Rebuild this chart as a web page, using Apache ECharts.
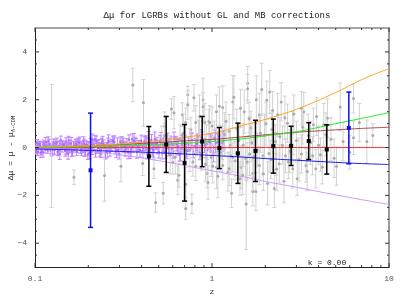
<!DOCTYPE html>
<html><head><meta charset="utf-8">
<script src="https://cdn.jsdelivr.net/npm/echarts@6/dist/echarts.min.js"></script>
<style>html,body{margin:0;padding:0;background:#fff}#c{width:407px;height:301px}</style>
</head><body><div id="c"></div>
<script>
const FONT = '"Liberation Mono", "DejaVu Sans Mono", monospace';

// Supernovae (purple points)
const snZ = [0.100,0.102,0.104,0.105,0.107,0.109,0.110,0.112,0.114,0.116,
0.118,0.120,0.122,0.125,0.127,0.129,0.132,0.134,0.137,0.139,
0.142,0.145,0.148,0.150,0.153,0.157,0.160,0.163,0.166,0.170,
0.173,0.177,0.181,0.184,0.188,0.193,0.197,0.201,0.206,0.210,
0.215,0.220,0.225,0.230,0.236,0.241,0.247,0.253,0.259,0.265,
0.272,0.278,0.285,0.292,0.299,0.307,0.315,0.323,0.331,0.340,
0.349,0.358,0.367,0.377,0.387,0.398,0.409,0.420,0.431,0.443,
0.455,0.468,0.481,0.495,0.509,0.523,0.538,0.553,0.569,0.586,
0.603,0.620,0.638,0.657,0.676,0.696,0.717,0.738,0.760,0.783,
0.806,0.830,0.855,0.881,0.908,0.935,0.963,0.992,1.02,1.05,
1.08,1.12,1.17,
0.101,0.106,0.111,0.117,0.123,0.130,0.136,0.143,0.151,0.158,
0.165,0.172,0.179,0.186,0.195,0.203,0.212,0.222,0.233,0.244,
0.256,0.268,0.281,0.295,0.311,0.327,0.345,0.363,0.383,0.404,
0.426,0.450,0.475,0.502,0.531,0.561,0.593,0.627,0.663,0.701,
0.103,0.108,0.113,0.119,0.124,0.128,0.133,0.138,0.146,0.152,
0.155,0.161,0.168,0.175,0.183,0.190,0.199,0.208,0.218,0.227,
0.238,0.250,0.262,0.275,0.288,0.303,0.319,0.336,0.354,0.372,
0.392,0.414,0.437,0.462,0.488,0.516,0.546,0.577,0.610,0.645,
0.682,0.72,0.77,0.82,0.87,0.92,0.98,1.04,1.10,1.15,
0.104,0.115,0.126,0.140,0.154,0.171,0.190,0.210,0.235,0.260];
const snMu = [0.05,-0.08,0.12,-0.03,0.09,-0.15,0.02,0.18,-0.06,0.07,
-0.12,0.14,0.01,-0.09,0.22,-0.04,0.11,-0.18,0.06,0.15,
-0.02,0.09,-0.14,0.25,0.03,-0.07,0.17,-0.21,0.08,0.12,
-0.05,0.19,-0.11,0.04,0.28,-0.16,0.10,-0.02,0.21,-0.09,
0.13,-0.24,0.06,0.16,-0.07,0.30,-0.13,0.02,0.18,-0.20,
0.09,0.24,-0.05,0.12,-0.27,0.07,0.20,-0.10,0.15,0.33,
-0.08,0.04,0.22,-0.18,0.11,0.27,-0.03,0.17,-0.25,0.08,
0.31,-0.12,0.14,0.02,0.26,-0.20,0.10,0.35,-0.06,0.19,
-0.15,0.23,0.05,-0.30,0.16,0.38,-0.09,0.12,0.28,-0.17,
0.06,0.21,-0.22,0.32,0.09,-0.11,0.25,0.14,-0.26,0.18,
0.22,-0.05,0.30,
-0.10,0.14,-0.20,0.07,-0.04,0.19,-0.13,0.10,-0.07,0.16,
0.03,-0.17,0.21,-0.01,0.12,-0.23,0.08,0.26,-0.09,0.14,
-0.19,0.05,0.23,-0.12,0.17,0.01,-0.21,0.29,0.06,-0.14,
0.20,-0.03,0.34,-0.18,0.10,0.27,-0.08,0.15,-0.24,0.22,
0.18,-0.22,0.09,0.27,-0.14,0.04,0.21,-0.27,0.13,-0.05,
0.30,-0.16,0.07,0.24,-0.10,0.16,-0.29,0.11,0.34,-0.02,
0.19,-0.23,0.08,0.29,-0.15,0.22,0.03,-0.19,0.36,0.12,
-0.11,0.25,0.40,-0.07,0.18,0.31,-0.20,0.09,0.37,0.02,
0.24,-0.13,0.30,0.15,0.42,-0.04,0.20,0.33,0.10,0.26,
-0.18,0.23,-0.09,0.30,-0.25,0.15,-0.14,0.32,-0.21,0.26];
const snErr = [0.14,0.18,0.12,0.20,0.15,0.16,0.22,0.13,0.17,0.19,
0.12,0.21,0.15,0.18,0.14,0.24,0.13,0.16,0.20,0.15,
0.17,0.13,0.22,0.16,0.19,0.14,0.25,0.15,0.18,0.21,
0.16,0.20,0.14,0.23,0.17,0.19,0.15,0.26,0.18,0.20,
0.22,0.16,0.24,0.18,0.21,0.17,0.27,0.19,0.22,0.16,
0.25,0.20,0.18,0.28,0.21,0.23,0.19,0.26,0.22,0.20,
0.29,0.24,0.21,0.27,0.19,0.25,0.23,0.30,0.22,0.26,
0.24,0.31,0.20,0.28,0.25,0.27,0.33,0.23,0.29,0.26,
0.30,0.24,0.32,0.27,0.35,0.25,0.30,0.28,0.34,0.26,
0.31,0.36,0.29,0.33,0.30,0.38,0.32,0.35,0.34,0.40,
0.38,0.42,0.36,
0.17,0.13,0.20,0.16,0.22,0.14,0.19,0.18,0.24,0.15,
0.21,0.17,0.23,0.20,0.16,0.25,0.19,0.22,0.27,0.18,
0.24,0.21,0.26,0.20,0.28,0.23,0.25,0.30,0.22,0.27,
0.29,0.24,0.31,0.26,0.28,0.33,0.27,0.30,0.32,0.29,
0.15,0.20,0.13,0.18,0.21,0.16,0.19,0.23,0.14,0.20,
0.17,0.22,0.18,0.15,0.24,0.19,0.21,0.26,0.17,0.22,
0.20,0.25,0.23,0.19,0.27,0.22,0.24,0.28,0.21,0.26,
0.30,0.23,0.27,0.29,0.25,0.32,0.26,0.30,0.28,0.33,
0.31,0.34,0.30,0.36,0.33,0.38,0.35,0.40,0.37,0.42,
0.16,0.19,0.22,0.18,0.24,0.20,0.23,0.25,0.21,0.27];

// LGRBs (gray points)
const grbZ = [0.124,0.166,0.247,0.306,0.357,0.406,0.41,0.47,0.48,0.53,
0.54,0.54,0.59,0.60,0.61,0.64,0.65,0.68,0.71,0.71,
0.71,0.73,0.73,0.76,0.77,0.79,0.81,0.81,0.89,0.89,
0.91,0.94,0.95,0.96,0.97,0.99,1.01,1.06,1.06,1.10,
1.15,1.15,1.23,1.25,1.25,1.29,1.31,1.31,1.40,1.45,
1.46,1.49,1.52,1.56,1.59,1.59,1.63,1.63,1.66,1.70,
1.70,1.77,1.85,1.85,1.91,1.94,2.04,2.06,2.12,2.20,
2.25,2.30,2.35,2.40,2.46,2.55,2.60,2.67,2.86,2.86,
3.03,3.20,3.20,3.30,3.40,3.70,3.74,3.86,4.20,4.28,
4.49,5.05,6.30,6.30,8.10,
0.52,0.58,0.66,0.75,0.84,0.87,0.93,1.03,1.12,1.18,
1.27,1.35,1.42,1.55,1.68,1.80,1.98,2.15,2.28,2.50,
2.75,3.00,3.50,4.00,4.70,5.50,
0.62,0.69,0.78,0.85,0.92,1.00,1.08,1.14,1.20,1.28,
1.33,1.38,1.44,1.50,1.58,1.62,1.72,1.78,1.88,1.95,
2.02,2.10,2.18,2.32,2.42,2.58,2.70,2.90,3.10,3.25,
3.45,3.60,3.90,4.10,4.40,4.90,5.30,6.00,6.80,7.50];
const grbMu = [0.07,-1.24,-1.17,-0.78,2.62,-0.67,1.87,-0.89,-2.30,-1.91,
0.89,0.50,1.61,-0.61,1.46,-1.37,-1.16,1.37,1.05,-1.53,
-2.55,2.21,1.78,0.75,-2.35,2.08,1.05,-0.78,2.00,1.71,
1.05,-1.09,-1.46,1.09,1.05,-0.41,-0.78,1.50,-0.82,1.73,
1.68,-0.75,-1.02,0.68,-0.89,-1.91,1.91,-0.41,-0.34,1.64,
-0.82,-1.16,1.50,-2.36,2.69,2.46,0.48,-0.27,0.82,-1.84,
-1.09,-1.84,1.37,-0.75,2.43,-0.34,1.98,-1.50,2.32,1.55,
-1.71,-0.27,1.37,-0.68,1.91,-1.41,-0.34,1.02,0.61,-0.89,
-1.30,1.64,-0.27,1.50,-0.75,-0.34,0.95,-0.89,-0.82,0.95,
1.23,-0.78,2.05,0.41,0.50,
0.20,-0.30,0.35,-0.10,0.45,-0.35,0.15,0.40,-0.20,0.55,
0.10,-0.55,0.30,-0.45,0.20,-0.10,0.50,-0.50,0.25,0.10,
-0.15,0.30,0.50,0.10,0.35,0.25,
-0.40,0.60,-0.60,1.30,-0.70,0.90,-1.20,0.20,1.10,-0.35,
2.10,0.80,-1.30,0.10,-0.60,1.20,-0.40,2.00,0.60,-1.10,
1.00,-0.25,0.75,-0.90,0.45,1.25,-0.60,1.40,-0.50,0.85,
-1.00,0.20,1.30,-0.30,0.55,-0.45,1.70,-0.20,1.05,0.25];
const grbErr = [2.57,0.30,1.08,0.65,0.70,0.50,0.98,0.40,0.40,0.45,
0.60,0.50,0.43,0.50,0.68,0.60,0.50,0.50,0.60,0.70,
0.45,0.35,0.60,0.50,0.40,0.55,0.70,0.60,0.90,0.60,
0.80,0.60,0.70,0.50,0.70,0.80,0.70,0.70,0.90,0.80,
0.90,0.60,0.80,0.70,0.70,0.60,1.10,0.60,0.70,0.80,
0.90,0.80,0.90,1.90,0.70,0.60,0.80,0.90,0.70,0.60,
0.70,0.80,0.90,0.80,1.10,0.80,0.80,0.90,0.90,0.80,
0.80,0.90,0.90,0.80,0.80,0.90,0.70,0.80,0.90,0.80,
0.70,0.70,0.80,0.80,0.70,0.80,0.70,0.80,0.70,0.90,
0.80,0.80,0.60,0.70,0.50,
0.70,0.80,0.60,0.90,0.70,0.60,0.80,0.70,0.80,0.90,
0.70,0.80,0.70,0.90,0.80,0.70,0.90,0.80,0.70,0.80,
0.90,0.80,0.90,0.80,0.90,0.80,
0.70,0.80,0.60,0.90,0.70,0.80,0.90,0.70,0.80,0.70,
0.90,0.80,0.70,0.90,0.80,0.70,0.90,1.00,0.80,0.70,
0.90,0.80,0.70,0.90,0.80,0.90,0.70,0.80,0.90,0.70,
0.80,0.90,0.80,0.70,0.90,0.80,1.00,0.70,0.80,0.90];

// Binned LGRBs (black) and blue bins
const binZ = [0.44,0.551,0.70,0.88,1.10,1.40,1.76,2.22,2.80,3.52,4.45];
const binMu = [-0.37,0.13,-0.64,0.25,-0.02,-0.24,-0.14,0.06,0.07,0.27,-0.08];
const binErr = [1.25,1.17,1.60,1.05,0.86,1.26,1.28,1.13,0.82,0.77,1.03];
const blueZ = [0.206,5.93];
const blueMu = [-0.95,0.82];
const blueErr = [2.39,1.50];

// Model curves
const curveZ = [0.1,0.15,0.2,0.3,0.5,0.7,1,1.5,2,3,5,7,10];
const orangeMu = [0.02,0.05,0.08,0.15,0.29,0.43,0.60,0.93,1.18,1.60,2.30,2.84,3.30];
const greenMu  = [0.00,0.02,0.04,0.07,0.12,0.18,0.25,0.37,0.49,0.66,1.00,1.22,1.46];
const brownMu  = [0.00,0.04,0.07,0.13,0.21,0.28,0.34,0.45,0.53,0.64,0.74,0.80,0.85];
const redMu    = [0,0,0,0,0,0,0,0,0,0,0,0,0];
const blueLineMu = [-0.06,-0.09,-0.12,-0.16,-0.22,-0.27,-0.33,-0.40,-0.46,-0.53,-0.62,-0.67,-0.71];
const purpleMu = [0.00,-0.08,-0.16,-0.30,-0.55,-0.75,-0.97,-1.22,-1.42,-1.66,-1.98,-2.18,-2.38];

// Ticks
const xTickMajor = [0.1,1,10];
const xTickMinor = [0.2,0.3,0.4,0.5,0.6,0.7,0.8,0.9,2,3,4,5,6,7,8,9];
const yTickMajor = [-4,-2,0,2,4];
const yTickMinor = [-4.5,-3.5,-3,-2.5,-1.5,-1,-0.5,0.5,1,1.5,2.5,3,3.5,4.5];
const X_MIN = 0.1, X_MAX = 10, Y_MIN = -5, Y_MAX = 5;

function zip3(a,b,c){ return a.map((v,i)=>[v,b[i],c[i]]); }
function zip2(a,b){ return a.map((v,i)=>[v,b[i]]); }

function errRender(barColor, lw, cap, markColor, msize, square){
  return function(params, api){
    const x = api.value(0), y = api.value(1), e = api.value(2);
    const t = api.coord([x, y + e]), b = api.coord([x, y - e]), c = api.coord([x, y]);
    const st = {stroke: barColor, lineWidth: lw};
    const ch = [
      {type:'line', shape:{x1:t[0],y1:t[1],x2:b[0],y2:b[1]}, style:st},
      {type:'line', shape:{x1:t[0]-cap,y1:t[1],x2:t[0]+cap,y2:t[1]}, style:st},
      {type:'line', shape:{x1:b[0]-cap,y1:b[1],x2:b[0]+cap,y2:b[1]}, style:st}
    ];
    if (square) ch.push({type:'rect', shape:{x:c[0]-msize/2,y:c[1]-msize/2,width:msize,height:msize}, style:{fill:markColor}});
    else ch.push({type:'circle', shape:{cx:c[0],cy:c[1],r:msize/2}, style:{fill:markColor}});
    return {type:'group', children: ch};
  };
}

function xTickRender(len){
  return function(params, api){
    const v = api.value(0);
    const b = api.coord([v, Y_MIN]), t = api.coord([v, Y_MAX]);
    const st = {stroke:'#333', lineWidth:1};
    return {type:'group', children:[
      {type:'line', shape:{x1:b[0],y1:b[1],x2:b[0],y2:b[1]-len}, style:st},
      {type:'line', shape:{x1:t[0],y1:t[1],x2:t[0],y2:t[1]+len}, style:st}
    ]};
  };
}
function yTickRender(len){
  return function(params, api){
    const v = api.value(1);
    const l = api.coord([X_MIN, v]), r = api.coord([X_MAX, v]);
    const st = {stroke:'#333', lineWidth:1};
    return {type:'group', children:[
      {type:'line', shape:{x1:l[0],y1:l[1],x2:l[0]+len,y2:l[1]}, style:st},
      {type:'line', shape:{x1:r[0],y1:r[1],x2:r[0]-len,y2:r[1]}, style:st}
    ]};
  };
}

function curve(data, color){
  return {type:'line', data: zip2(curveZ, data), smooth: 0.4, showSymbol:false, silent:true,
    lineStyle:{color:color, width:1}, z:3, animation:false};
}

const chart = echarts.init(document.getElementById('c'), null, {renderer:'canvas'});
chart.setOption({
  animation: false,
  backgroundColor: '#fff',
  title: {text: 'Δμ for LGRBs without GL and MB corrections', left: 212, top: 6, textAlign: 'center',
    textStyle: {fontFamily: FONT, fontSize: 9, fontWeight: 'normal', color: '#222'}},
  grid: {left: 35, right: 18, top: 28, bottom: 29, containLabel: false},
  xAxis: [
    {type:'log', logBase:10, min:X_MIN, max:X_MAX, position:'bottom',
      name:'z', nameLocation:'middle', nameGap:19, nameTextStyle:{fontFamily:FONT, fontSize:8, color:'#333'},
      axisLine:{show:true, onZero:false, lineStyle:{color:'#222', width:1}},
      axisTick:{show:false}, splitLine:{show:false}, minorTick:{show:false},
      axisLabel:{fontFamily:FONT, fontSize:8, color:'#555', margin:8,
        formatter: v => (Math.abs(v-0.1)<1e-9 ? '0.1' : String(Math.round(v)))}},
    {type:'log', logBase:10, min:X_MIN, max:X_MAX, position:'top',
      axisLine:{show:true, onZero:false, lineStyle:{color:'#888', width:1.5}},
      axisTick:{show:false}, axisLabel:{show:false}, splitLine:{show:false}}
  ],
  yAxis: [
    {type:'value', min:Y_MIN, max:Y_MAX, interval:1, position:'left',
      axisLine:{show:true, onZero:false, lineStyle:{color:'#222', width:1}},
      axisTick:{show:false}, splitLine:{show:false},
      axisLabel:{fontFamily:FONT, fontSize:8, color:'#555', margin:8,
        formatter: v => (Math.round(v) % 2 === 0 && Math.abs(v) < 5 ? (v < 0 ? '−' + Math.abs(v) : String(v)) : '')}},
    {type:'value', min:Y_MIN, max:Y_MAX, interval:1, position:'right',
      axisLine:{show:true, onZero:false, lineStyle:{color:'#777', width:1.5}},
      axisTick:{show:false}, axisLabel:{show:false}, splitLine:{show:false}}
  ],
  graphic: [
    {type:'text', x: 11, y: 148, rotation: Math.PI/2, z: 10,
      style:{text:'{n|Δμ = μ - μ}{s|Λ-CDM}', align:'center', verticalAlign:'middle',
        rich:{n:{fontFamily:FONT, fontSize:8, fill:'#222'}, s:{fontFamily:FONT, fontSize:5.5, fill:'#222', padding:[5,0,0,0]}}}},
    {type:'text', x: 327, y: 263, z: 10,
      style:{text:'k = 0.00', align:'center', verticalAlign:'middle', fontFamily:FONT, fontSize:8, fill:'#222'}}
  ],
  series: [
    {type:'custom', name:'SN', data: zip3(snZ, snMu, snErr), renderItem: errRender('#bf86ff', 1, 2, '#a866ff', 2, true), z:1, clip:true, silent:true},
    {type:'custom', name:'LGRB', data: zip3(grbZ, grbMu, grbErr), renderItem: errRender('#d2d2d2', 1, 2, '#ababab', 3, false), z:2, clip:true, silent:true},
    curve(purpleMu, '#cc99ff'),
    curve(blueLineMu, '#1a1aff'),
    curve(redMu, '#ff2a2a'),
    curve(brownMu, '#b04a4a'),
    curve(greenMu, '#22ee22'),
    curve(orangeMu, '#ffa51f'),
    {type:'custom', name:'bins', data: zip3(binZ, binMu, binErr), renderItem: errRender('#000', 1.5, 2.5, '#000', 4, true), z:5, clip:true, silent:true},
    {type:'custom', name:'blue', data: zip3(blueZ, blueMu, blueErr), renderItem: errRender('#1010ee', 1.5, 2.5, '#1010ee', 4, true), z:5, clip:true, silent:true},
    {type:'custom', data: xTickMajor.map(v=>[v,0]), renderItem: xTickRender(4), z:6, silent:true},
    {type:'custom', data: xTickMinor.map(v=>[v,0]), renderItem: xTickRender(2), z:6, silent:true},
    {type:'custom', data: yTickMajor.map(v=>[1,v]), renderItem: yTickRender(4), z:6, silent:true},
    {type:'custom', data: yTickMinor.map(v=>[1,v]), renderItem: yTickRender(2), z:6, silent:true}
  ]
});
</script></body></html>
